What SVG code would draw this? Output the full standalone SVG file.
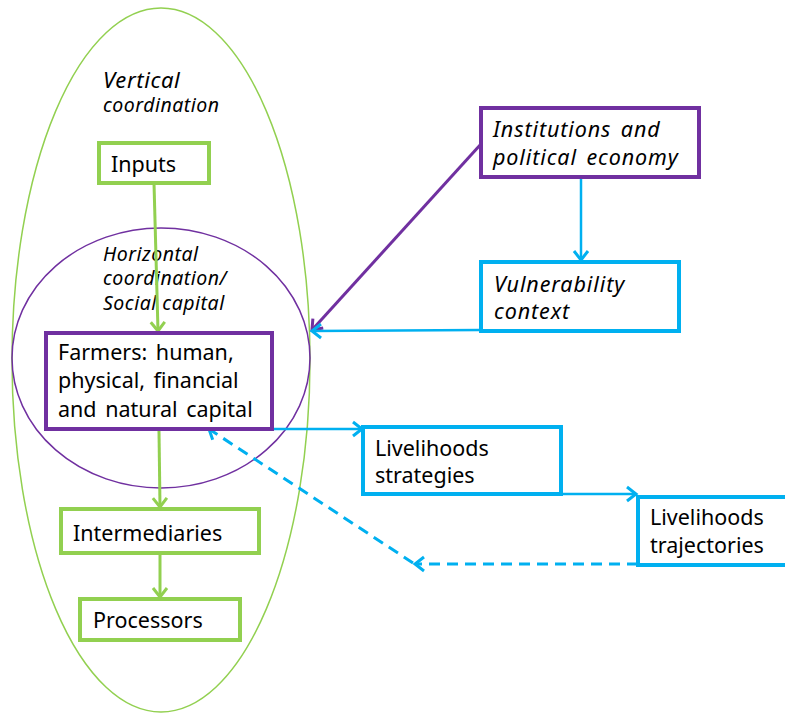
<svg xmlns="http://www.w3.org/2000/svg" width="785" height="713" viewBox="0 0 785 713">
<style>
text{font-family:"Noto Sans","Open Sans","DejaVu Sans",sans-serif;fill:#000}
.t{font-size:21.5px;word-spacing:3px}
.i{font-style:italic}
.t.i{letter-spacing:0.9px}
.s{font-style:italic;font-size:19.5px;letter-spacing:0.5px}
.g{fill:#fff;stroke:#92D050;stroke-width:4}
.p{fill:#fff;stroke:#7030A0;stroke-width:4}
.b{fill:#fff;stroke:#00B0F0;stroke-width:4}
.lg{fill:none;stroke:#92D050;stroke-width:3;marker-end:url(#mg)}
.lp{fill:none;stroke:#7030A0;stroke-width:3;marker-end:url(#mp)}
.lb{fill:none;stroke:#00B0F0;stroke-width:2.5;marker-end:url(#mb)}
.ld{fill:none;stroke:#00B0F0;stroke-width:3;stroke-dasharray:11 7;marker-end:url(#mb)}
</style>
<defs>
<marker id="mg" markerUnits="userSpaceOnUse" viewBox="-12 -9 14 18" refX="0" refY="0" markerWidth="14" markerHeight="18" orient="auto" overflow="visible"><path d="M-9,-7 L0,0 L-9,7" fill="none" stroke="#92D050" stroke-width="3"/></marker>
<marker id="mp" markerUnits="userSpaceOnUse" viewBox="-12 -9 14 18" refX="0" refY="0" markerWidth="14" markerHeight="18" orient="auto" overflow="visible"><path d="M-9,-7 L0,0 L-9,7" fill="none" stroke="#7030A0" stroke-width="3"/></marker>
<marker id="mb" markerUnits="userSpaceOnUse" viewBox="-12 -9 14 18" refX="0" refY="0" markerWidth="14" markerHeight="18" orient="auto" overflow="visible"><path d="M-9,-7 L0,0 L-9,7" fill="none" stroke="#00B0F0" stroke-width="3"/></marker>
</defs>
<rect width="785" height="713" fill="#fff"/>
<g id="vertical-coordination">
<ellipse cx="161" cy="360" rx="149" ry="352" fill="none" stroke="#92D050" stroke-width="1.5"/>
<text class="i" x="103" y="88" font-size="22" letter-spacing="0.6">Vertical</text>
<text class="s" x="103" y="112">coordination</text>
</g>
<g id="horizontal-coordination">
<ellipse cx="161" cy="358" rx="149" ry="130" fill="none" stroke="#7030A0" stroke-width="1.5"/>
<text class="s" x="103" y="261">Horizontal</text>
<text class="s" x="103" y="285">coordination/</text>
<text class="s" x="103" y="310">Social capital</text>
</g>
<g id="connectors">
<path class="lg" d="M154,183 L158,331"/>
<path class="lg" d="M159,431 L160,507"/>
<path class="lg" d="M160,553 L160,597"/>
<path class="lp" d="M481,144 L312,330"/>
<path class="lb" d="M581,177 L581,260"/>
<path class="lb" d="M481,330 L312,331"/>
<path class="lb" d="M273,429 L362,429"/>
<path class="lb" d="M561,494 L636,494"/>
<path class="ld" d="M638,564 L415,564"/>
<path class="ld" d="M413,563 L209,429"/>
</g>
<g id="inputs">
<rect class="g" x="99" y="143" width="110" height="40"/>
<text class="t" x="111" y="172">Inputs</text>
</g>
<g id="farmers">
<rect class="p" x="46" y="333" width="226" height="96"/>
<text class="t" x="58" y="360">Farmers: human,</text>
<text class="t" x="58" y="388">physical, financial</text>
<text class="t" x="58" y="417">and natural capital</text>
</g>
<g id="intermediaries">
<rect class="g" x="61" y="509" width="198" height="44"/>
<text class="t" x="73" y="541">Intermediaries</text>
</g>
<g id="processors">
<rect class="g" x="80" y="599" width="160" height="41"/>
<text class="t" x="93" y="628">Processors</text>
</g>
<g id="institutions">
<rect class="p" x="481" y="108" width="218" height="69"/>
<text class="t i" x="493" y="137">Institutions and</text>
<text class="t i" x="493" y="165">political economy</text>
</g>
<g id="vulnerability">
<rect class="b" x="481" y="262" width="198" height="69"/>
<text class="t i" x="494" y="292">Vulnerability</text>
<text class="t i" x="494" y="319">context</text>
</g>
<g id="strategies">
<rect class="b" x="363" y="427" width="198" height="67"/>
<text class="t" x="375" y="456">Livelihoods</text>
<text class="t" x="375" y="483">strategies</text>
</g>
<g id="trajectories">
<rect class="b" x="638" y="497" width="160" height="68"/>
<text class="t" x="650" y="525">Livelihoods</text>
<text class="t" x="650" y="553">trajectories</text>
</g>
</svg>
